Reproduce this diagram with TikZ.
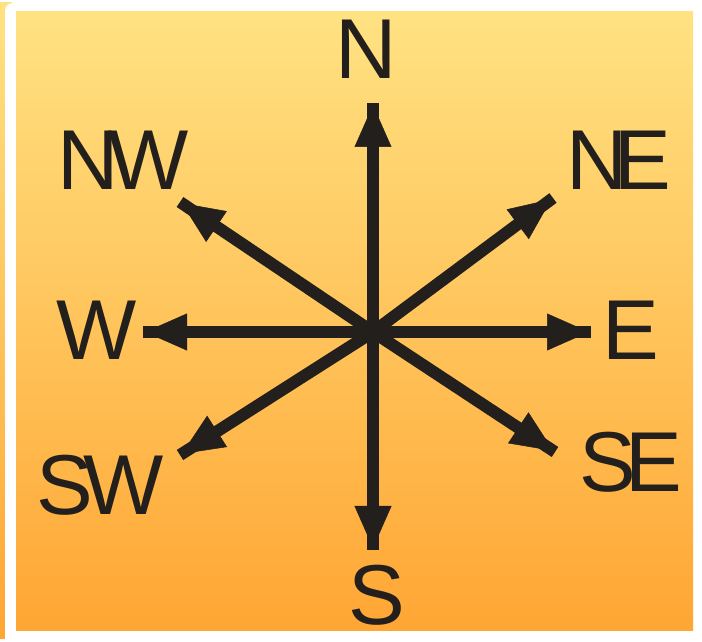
\documentclass[tikz,border=0pt]{standalone}
\usepackage{fontspec}
\setmainfont{Liberation Sans}
\usetikzlibrary{calc,arrows.meta}
\definecolor{bgtop}{RGB}{255,226,130}
\definecolor{bgbot}{RGB}{255,166,52}
\definecolor{ink}{RGB}{35,31,28}
\tikzset{
  bgshade/.style={top color=bgtop, bottom color=bgbot, draw=none},
  arm/.style={draw=ink, line width=12pt},
  head/.style={draw=ink, line width=0.5pt, -{Triangle[length=42pt,width=37pt]}},
  dirlabel/.style={anchor=base, inner sep=0pt, text=ink, font=\fontsize{85}{85}\selectfont}
}
\newcommand{\compasshead}[1]{%
  \draw[head] ($(#1)!46pt!(C)$) -- ($(#1)!2pt!(C)$);}
\begin{document}
\begin{tikzpicture}[x=1pt,y=1pt]
\useasboundingbox (0,0) rectangle (702,642);
\fill[white] (0,0) rectangle (702,642);
\fill[bgshade] (0,3) rectangle (12,639);
\fill[white, rounded corners=8pt] (5,639) rectangle (730,-30);
\fill[bgshade] (16,11) rectangle (693,630);
% centre and arm ends
\coordinate (C) at (373,310);
\coordinate (n) at (373,539);
\coordinate (s) at (373,92);
\coordinate (w) at (143,310);
\coordinate (e) at (591,310);
\coordinate (nw) at (180,440);
\coordinate (ne) at (553,444);
\coordinate (se) at (555,190);
\coordinate (sw) at (180,187);
\foreach \d in {n,s,w,e,nw,ne,se,sw}{
  \draw[arm] (C) -- (\d);
  \compasshead{\d}
}
% labels
\node[dirlabel] (lN) at (366,563) {N};
\node[dirlabel] (lNW) at (123,452) {N\kern-11ptW};
\node[dirlabel] (lNE) at (619,452) {N\kern-13ptE};
\node[dirlabel] (lW) at (97,282) {W};
\node[dirlabel] (lE) at (631,282) {E};
\node[dirlabel] (lSW) at (100,127) {S\kern-9ptW};
\node[dirlabel] (lSE) at (631,150) {S\kern-11ptE};
\node[dirlabel] (lS) at (377,17) {S};
\end{tikzpicture}
\end{document}
